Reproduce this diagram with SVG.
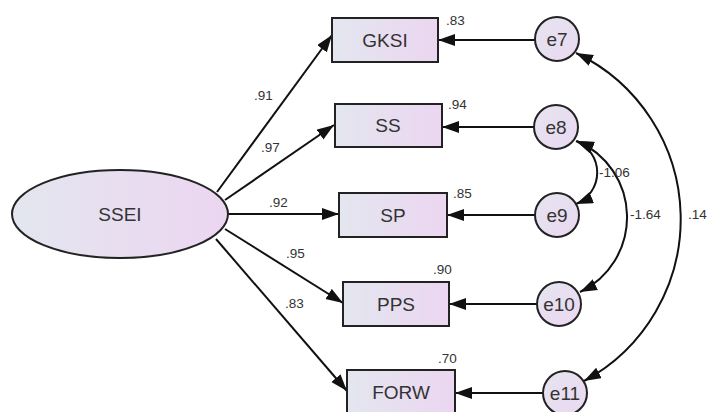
<svg xmlns="http://www.w3.org/2000/svg" width="709" height="412" viewBox="0 0 709 412">
<defs>
<linearGradient id="g" x1="0" y1="0" x2="1" y2="0">
<stop offset="0" stop-color="#e3e6ef"/>
<stop offset="1" stop-color="#ecd6f1"/>
</linearGradient>
<linearGradient id="gc" x1="0" y1="0" x2="1" y2="1">
<stop offset="0" stop-color="#e6e4f0"/>
<stop offset="1" stop-color="#ead8f0"/>
</linearGradient>
<marker id="ah" markerUnits="userSpaceOnUse" markerWidth="18" markerHeight="14" refX="17" refY="6" orient="auto-start-reverse">
<path d="M0,0 L17,6 L0,12 z" fill="#111"/>
</marker>
</defs>
<style>
.n{fill:url(#g);stroke:#222;stroke-width:2}
.c{fill:url(#gc);stroke:#222;stroke-width:2}
.t{font-family:"Liberation Sans",Arial,sans-serif;font-size:19px;fill:#333;text-anchor:middle}
.v{font-family:"Liberation Sans",Arial,sans-serif;font-size:13.5px;fill:#333}
.l{fill:none;stroke:#111;stroke-width:2}
</style>
<rect width="709" height="412" fill="#fff"/>
<g id="connectors">
<line class="l" x1="217" y1="192" x2="332" y2="35" marker-end="url(#ah)"/>
<line class="l" x1="225" y1="200" x2="334" y2="125" marker-end="url(#ah)"/>
<line class="l" x1="228" y1="214" x2="339" y2="214" marker-end="url(#ah)"/>
<line class="l" x1="225" y1="229" x2="343" y2="303" marker-end="url(#ah)"/>
<line class="l" x1="216" y1="239" x2="347" y2="391" marker-end="url(#ah)"/>
<line class="l" x1="535" y1="40" x2="438" y2="40" marker-end="url(#ah)"/>
<line class="l" x1="534" y1="127" x2="442" y2="127" marker-end="url(#ah)"/>
<line class="l" x1="535" y1="215" x2="447" y2="215" marker-end="url(#ah)"/>
<line class="l" x1="537" y1="304" x2="449" y2="304" marker-end="url(#ah)"/>
<line class="l" x1="543" y1="393" x2="455" y2="393" marker-end="url(#ah)"/>
<path class="l" d="M576,141 A34,34 0 0 1 576,204" marker-start="url(#ah)" marker-end="url(#ah)"/>
<path class="l" d="M577,141 A83,83 0 0 1 580,292" marker-start="url(#ah)" marker-end="url(#ah)"/>
<path class="l" d="M576,53 A184,184 0 0 1 584,381" marker-start="url(#ah)" marker-end="url(#ah)"/>
<text class="v" x="254" y="100">.91</text>
<text class="v" x="261" y="152">.97</text>
<text class="v" x="269" y="207">.92</text>
<text class="v" x="286" y="258">.95</text>
<text class="v" x="285" y="308">.83</text>
<text class="v" x="599" y="177">-1.06</text>
<text class="v" x="630" y="219">-1.64</text>
<text class="v" x="688" y="219">.14</text>
</g>
<g id="SSEI"><ellipse class="n" cx="120" cy="214" rx="108" ry="44"/><text class="t" x="120" y="221">SSEI</text></g>
<g id="GKSI"><rect class="n" x="332" y="18" width="106" height="44"/><text class="t" x="385" y="47">GKSI</text><text class="v" x="446" y="25">.83</text></g>
<g id="SS"><rect class="n" x="335" y="104" width="107" height="43"/><text class="t" x="388" y="132">SS</text><text class="v" x="448" y="109">.94</text></g>
<g id="SP"><rect class="n" x="339" y="193" width="108" height="44"/><text class="t" x="393" y="222">SP</text><text class="v" x="453" y="198">.85</text></g>
<g id="PPS"><rect class="n" x="343" y="282" width="106" height="44"/><text class="t" x="396" y="311">PPS</text><text class="v" x="433" y="274">.90</text></g>
<g id="FORW"><rect class="n" x="347" y="370" width="108" height="44"/><text class="t" x="401" y="399">FORW</text><text class="v" x="438" y="363">.70</text></g>
<g id="e7"><circle class="c" cx="557" cy="39" r="22"/><text class="t" x="557" y="46">e7</text></g>
<g id="e8"><circle class="c" cx="556" cy="127" r="22"/><text class="t" x="556" y="134">e8</text></g>
<g id="e9"><circle class="c" cx="557" cy="215" r="22"/><text class="t" x="557" y="222">e9</text></g>
<g id="e10"><circle class="c" cx="559" cy="304" r="22"/><text class="t" x="559" y="311">e10</text></g>
<g id="e11"><circle class="c" cx="565" cy="393" r="22"/><text class="t" x="565" y="400">e11</text></g>
</svg>
